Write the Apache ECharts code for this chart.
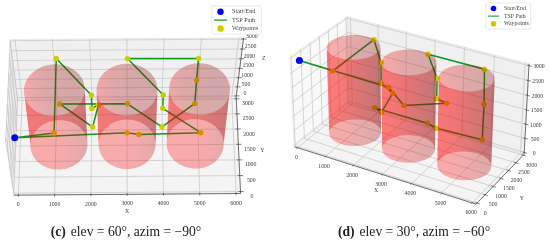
<!doctype html><html><head><meta charset="utf-8"><script src="https://cdn.jsdelivr.net/npm/echarts@6/dist/echarts.min.js"></script></head>
<body style="margin:0;background:#fff"><div id="c" style="width:550px;height:242px;filter:blur(0.4px)"></div><script>
// ---- data
const wpX=[95,1099,1104,2060,2056,2219,2056,1100,3015,3956,4913,4917,4920,3014,3959,3959,4916,3314,3003];
const wpY=[100,337,2647,1478,1486,1883,1487,2650,2631,1469,2631,2663,2599,2616,1474,1469,306,671,334];
const wpZ=[2922,2735,2745,2745,2033,1543,1013,315,328,1032,312,1543,2770,2761,2734,2046,2747,2026,2717];
const cylX=[1090,3000,4910];
const cylY=[1500,1500,1500];
const cylR=[800,800,800];
const cylH=[3000,3000,3000];
const ticksX=[0,1000,2000,3000,4000,5000,6000];
const ticksY=[0,500,1000,1500,2000,2500,3000];
const ticksZ=[0,500,1000,1500,2000,2500,3000];
const legendNames=['Start/End','TSP Path','Waypoints'];
// ---- 3D box limits (matplotlib pads each axis by 1/48 of its range each side)
const a=-125,b=6125,c=-62.5,d=3062.5;
const rad=Math.PI/180;
function camera(elv,azm){const el=elv*rad,az=azm*rad,k=1.8294640721620434*25/24/Math.hypot(2,1,1),B=[2*k,k,k];
 const w=[Math.cos(el)*Math.cos(az),Math.cos(el)*Math.sin(az),Math.sin(el)],u=[-Math.sin(az),Math.cos(az),0];
 const v=[w[1]*u[2]-w[2]*u[1],w[2]*u[0]-w[0]*u[2],w[0]*u[1]-w[1]*u[0]];
 const f=(x,y,z)=>{const p=[((x-a)/6250-.5)*B[0],((y-c)/3125-.5)*B[1],((z-c)/3125-.5)*B[2]];
  const D=10-(p[0]*w[0]+p[1]*w[1]+p[2]*w[2]);
  return [(p[0]*u[0]+p[1]*u[1]+p[2]*u[2])/D,(p[0]*v[0]+p[1]*v[1]+p[2]*v[2])/D];};
 f.view=w;return f;}
function solve(A,r){const n=A.length;A=A.map((q,i)=>[...q,r[i]]);for(let i=0;i<n;i++){let m=i;for(let j=i;j<n;j++)if(Math.abs(A[j][i])>Math.abs(A[m][i]))m=j;[A[i],A[m]]=[A[m],A[i]];for(let j=0;j<n;j++)if(j!=i){const f=A[j][i]/A[i][i];for(let k=i;k<=n;k++)A[j][k]-=f*A[i][k];}}return A.map((q,i)=>q[n]/q[i]);}
function fit(pr,L){const A=[[0,0,0],[0,0,0],[0,0,0]],bx=[0,0,0],by=[0,0,0];L.forEach(l=>{const [u,v]=pr(l[0],l[1],l[2]),r=[u,v,1];for(let i=0;i<3;i++){for(let j=0;j<3;j++)A[i][j]+=r[i]*r[j];bx[i]+=r[i]*l[3];by[i]+=r[i]*l[4];}});const p=solve(A,bx),q=solve(A,by);
 const f=(x,y,z)=>{const [u,v]=pr(x,y,z);return [p[0]*u+p[1]*v+p[2],q[0]*u+q[1]*v+q[2]];};f.view=pr.view;return f;}
const panels=[
 {P:fit(camera(60,-90),[[a,c,c,14,195.7],[b,c,c,240.7,193],[b,d,c,235.3,97],[a,d,d,10,39],[b,d,d,244.3,38.3]]),
  tx:[0,9.5],ty:[11.5,5],tz:[8.5,-2.5],names:[['X',3000,c,c,0,17],['Y',b,1500,c,24,6],['Z',b,d,1500,24,-9.5]]},
 {P:fit(camera(30,-60),[[a,c,c,293.3,145.7],[b,c,c,476.7,205],[b,d,c,524.3,154],[b,d,d,528.3,63.3],[a,d,d,347.7,16.7],[a,c,d,290,57.3]]),
  tx:[-1,10],ty:[8,10],tz:[10,1],names:[['X',3000,c,c,-6,16],['Y',b,1500,c,21,20]]}
];
const ff='"Liberation Serif"';
function line(api,pts,st){return {type:'polyline',shape:{points:pts.map(p=>api.coord(p))},style:Object.assign({fill:null},st),silent:true};}
function poly(api,pts,st){return {type:'polygon',shape:{points:pts.map(p=>api.coord(p))},style:st,silent:true};}
function boxItem(pan){return (params,api)=>{const P=pan.P,ch=[];
 const G={stroke:'#c4c4c4',lineWidth:.7},A={stroke:'#3a3a3a',lineWidth:.7},T={stroke:'#333',lineWidth:.6};
 ch.push(poly(api,[P(a,c,c),P(a,d,c),P(a,d,d),P(a,c,d)],{fill:'#f9f9f9',stroke:'#ddd',lineWidth:.5}));
 ch.push(poly(api,[P(a,d,c),P(b,d,c),P(b,d,d),P(a,d,d)],{fill:'#f0f0f0',stroke:'#ddd',lineWidth:.5}));
 ch.push(poly(api,[P(a,c,c),P(b,c,c),P(b,d,c),P(a,d,c)],{fill:'#f4f4f4',stroke:'#ddd',lineWidth:.5}));
 const lab=(s,p,o,al)=>ch.push({type:'text',x:api.coord(p)[0]+o[0],y:api.coord(p)[1]+o[1],style:{text:s,fill:'#3c3c3c',font:'5.8px '+ff,textAlign:al||'center',textVerticalAlign:'middle'},silent:true});
 ticksX.forEach(x=>{ch.push(line(api,[P(x,c,c),P(x,d,c),P(x,d,d)],G));ch.push(line(api,[P(x,c-50,c),P(x,c+40,c)],T));lab(String(x),P(x,c,c),pan.tx);});
 ticksY.forEach(y=>{ch.push(line(api,[P(b,y,c),P(a,y,c),P(a,y,d)],G));ch.push(line(api,[P(b-60,y,c),P(b+90,y,c)],T));lab(String(y),P(b,y,c),pan.ty);});
 ticksZ.forEach(z=>{ch.push(line(api,[P(a,c,z),P(a,d,z),P(b,d,z)],G));ch.push(line(api,[P(b-60,d,z),P(b+90,d,z)],T));lab(String(z),P(b,d,z),pan.tz);});
 ch.push(line(api,[P(a,c,c),P(b,c,c)],A));ch.push(line(api,[P(b,c,c),P(b,d,c)],A));ch.push(line(api,[P(b,d,c),P(b,d,d)],A));
 pan.names.forEach(n=>lab(n[0],P(n[1],n[2],n[3]),[n[4],n[5]]));
 return {type:'group',children:ch};};}
const LIGHT=[-.667,-.667,.333];
function shade(t){const s=(Math.cos(t)*LIGHT[0]+Math.sin(t)*LIGHT[1]+1)/2;return Math.round(255*Math.min(1,.55+.54*s));}
const ALPHA=.3;
function cylItem(pan){return (params,api)=>{const i=api.value(0),cx=cylX[i],cy=cylY[i],r=cylR[i],h=cylH[i],P=pan.P,ch=[];
 const t0=Math.atan2(P.view[1],P.view[0]);const N=48;
 const half=(ts,te)=>{const bot=[],top=[],samp=[];for(let k=0;k<=N;k++){const t=ts+(te-ts)*k/N,xx=cx+r*Math.cos(t),yy=cy+r*Math.sin(t);bot.push(P(xx,yy,0));top.push(P(xx,yy,h));samp.push([api.coord(P(xx,yy,h/2))[0],shade(t)]);}
  const xs=samp.map(q=>q[0]),x0=Math.min(...xs),x1=Math.max(...xs);
  samp.sort((p,q)=>p[0]-q[0]);
  const stops=samp.map(q=>({offset:Math.min(1,Math.max(0,(q[0]-x0)/(x1-x0))),color:`rgba(${q[1]},0,0,${ALPHA})`}));
  return poly(api,[...bot,...top.reverse()],{fill:{type:'linear',x:x0,y:0,x2:x1,y2:0,global:true,colorStops:stops}});};
 ch.push(half(t0+Math.PI/2,t0+3*Math.PI/2));
 ch.push(half(t0-Math.PI/2,t0+Math.PI/2));
 return {type:'group',children:ch};};}
const GREEN='#0a9a1e';
const series=[];
panels.forEach(pan=>{
 const pts=wpX.map((x,i)=>pan.P(x,wpY[i],wpZ[i]));
 series.push({type:'custom',coordinateSystem:'cartesian2d',data:[[0]],renderItem:boxItem(pan),z:1,clip:false,silent:true,encode:{x:0,y:0}});
 series.push({type:'line',name:legendNames[1],data:[...pts,pts[0]],symbol:'none',itemStyle:{color:GREEN},lineStyle:{color:GREEN,width:1.5},z:3,silent:true,clip:false});
 series.push({type:'scatter',name:legendNames[2],data:pts.slice(1),symbol:'circle',symbolSize:5.4,itemStyle:{color:'#cccc00',opacity:1},z:4,silent:true,clip:false});
 series.push({type:'custom',coordinateSystem:'cartesian2d',data:cylX.map((_,i)=>[i]),renderItem:cylItem(pan),z:5,clip:false,silent:true,encode:{x:0,y:0}});
 series.push({type:'scatter',name:legendNames[0],data:[pts[0]],symbol:'circle',symbolSize:7,itemStyle:{color:'#0000ff',opacity:1},z:6,silent:true,clip:false});
});
const legendData=[{name:legendNames[0]},{name:legendNames[1],icon:'path://M0 0H14V1.3H0Z'},{name:legendNames[2]}];
const legendBase={orient:'vertical',data:legendData,borderColor:'#dcdcdc',borderWidth:.6,borderRadius:1,backgroundColor:'#fff',selectedMode:false,z:10};
const cap=(x,lt,rest)=>({text:`{b|${lt}} {n|${rest}}`,left:x,top:218,textAlign:'center',textStyle:{fontWeight:'normal',rich:{b:{fontFamily:ff,fontSize:13.6,fontWeight:'bold',color:'#222'},n:{fontFamily:ff,fontSize:13.6,fontWeight:'normal',color:'#222'}}}});
const chart=echarts.init(document.getElementById('c'),null,{renderer:'canvas'});
chart.setOption({animation:false,backgroundColor:'#fff',
 grid:{left:0,right:0,top:0,bottom:0},
 xAxis:{type:'value',min:0,max:550,show:false},
 yAxis:{type:'value',min:0,max:242,inverse:true,show:false},
 legend:[Object.assign({},legendBase,{left:212,top:6,itemWidth:13,itemHeight:6.4,itemGap:2.2,padding:[2.5,3,2.5,2],textStyle:{fontFamily:ff,fontSize:6.2,color:'#444'}}),
         Object.assign({},legendBase,{left:486,top:3,itemWidth:11,itemHeight:5.6,itemGap:1.6,padding:[2.5,2,2.5,2],textStyle:{fontFamily:ff,fontSize:5.8,color:'#444'}})],
 title:[cap(121,'(c)','elev = 60°, azim = −90°'),cap(409,'(d)','elev = 30°, azim = −60°')],
 series});
</script></body></html>
